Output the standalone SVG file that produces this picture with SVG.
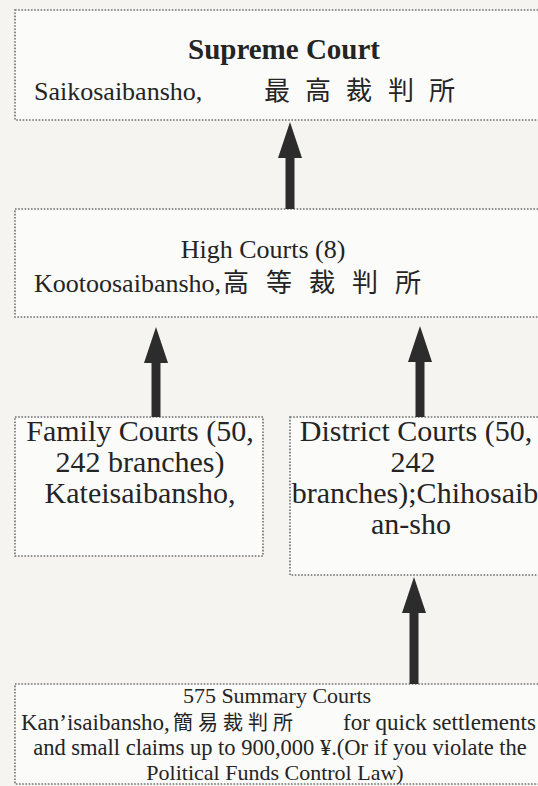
<svg xmlns="http://www.w3.org/2000/svg" width="538" height="786" viewBox="0 0 538 786">
<style>
.box{fill:#fbfbf9;stroke:#6e6e6e;stroke-width:1.6;stroke-dasharray:1.6 1.6}
.t{font-family:'Liberation Serif','Noto Sans CJK JP',serif;fill:#242424}
.conn line{stroke:#2c2c2c;stroke-width:9;marker-end:url(#arr)}
</style>
<defs>
<marker id="arr" markerUnits="userSpaceOnUse" viewBox="0 0 36 24" refX="1" refY="12" markerWidth="36" markerHeight="24" orient="auto">
<path d="M0,0 L36,12 L0,24 Z" fill="#2c2c2c"/>
</marker>
</defs>
<rect width="538" height="786" fill="#f5f4f1"/>

<g id="supreme">
<rect class="box" x="15" y="10" width="540" height="110"/>
<text class="t" x="284" y="59" text-anchor="middle" font-size="29" font-weight="bold">Supreme Court</text>
<text class="t" y="100" font-size="26"><tspan x="34">Saikosaibansho,</tspan><tspan x="264 290 305 331 346 372 388 414 429">最 高 裁 判 所</tspan></text>
</g>

<g id="high">
<rect class="box" x="15" y="209" width="540" height="108"/>
<text class="t" x="263" y="258" text-anchor="middle" font-size="26">High Courts (8)</text>
<text class="t" y="292" font-size="26"><tspan x="34">Kootoosaibansho,</tspan><tspan x="223 249 266 292 309 335 352 378 395">高 等 裁 判 所</tspan></text>
</g>

<g id="family">
<rect class="box" x="15" y="417" width="248" height="139"/>
<text class="t" x="140" y="441" text-anchor="middle" font-size="30">Family Courts (50,</text>
<text class="t" x="140" y="472" text-anchor="middle" font-size="30">242 branches)</text>
<text class="t" x="140" y="503" text-anchor="middle" font-size="30">Kateisaibansho,</text>
</g>

<g id="district">
<rect class="box" x="290" y="417" width="265" height="158"/>
<text class="t" x="416" y="441" text-anchor="middle" font-size="30">District Courts (50,</text>
<text class="t" x="413" y="472" text-anchor="middle" font-size="30">242</text>
<text class="t" x="415" y="503" text-anchor="middle" font-size="30">branches);Chihosaib</text>
<text class="t" x="411" y="534" text-anchor="middle" font-size="30">an-sho</text>
</g>

<g id="summary">
<rect class="box" x="15" y="684" width="540" height="100"/>
<text class="t" x="277" y="703" text-anchor="middle" font-size="22">575 Summary Courts</text>
<text class="t" y="730" font-size="23"><tspan x="21">Kan’isaibansho,</tspan><tspan font-size="20" x="173 193 198 218 223 243 248 268 273">簡 易 裁 判 所</tspan><tspan x="343">for quick settlements</tspan></text>
<text class="t" x="280" y="755" text-anchor="middle" font-size="22.5">and small claims up to 900,000 ¥.(Or if you violate the</text>
<text class="t" x="275" y="780" text-anchor="middle" font-size="22">Political Funds Control Law)</text>
</g>

<g id="connectors" class="conn">
<line x1="290" y1="209" x2="290" y2="157"/>
<line x1="156" y1="417" x2="156" y2="362"/>
<line x1="420" y1="417" x2="420" y2="361"/>
<line x1="414" y1="684" x2="414" y2="612"/>
</g>
</svg>
